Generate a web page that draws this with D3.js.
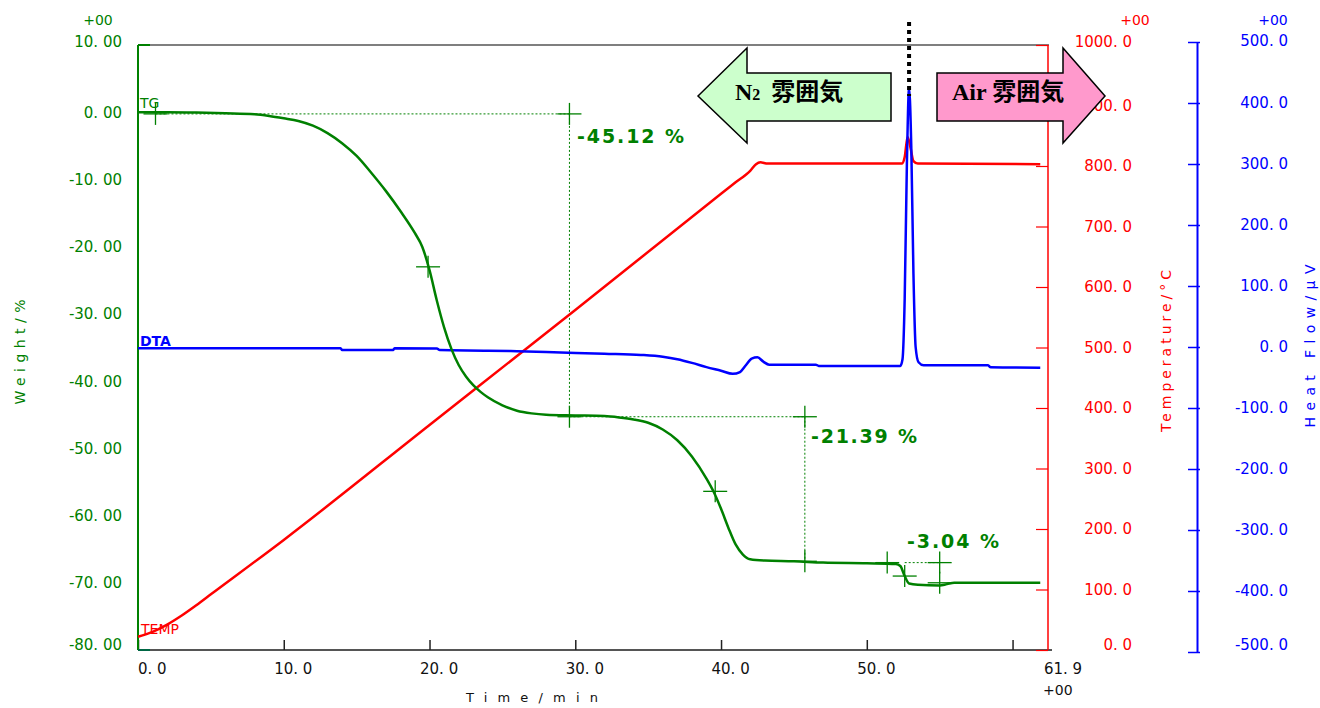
<!DOCTYPE html>
<html><head><meta charset="utf-8">
<script src="https://cdn.jsdelivr.net/npm/d3@7"></script>
<style>body{margin:0;background:#fff}svg{display:block}</style>
</head><body>
<svg id="c" width="1320" height="708"></svg>
<script>
// ---------- data ----------
const timeTicks = [0,10,20,30,40,50,60];
const timeTickLabels = ["0. 0","10. 0","20. 0","30. 0","40. 0","50. 0",""];
const timeEndLabel = "61. 9";
const weightTicks = [10,0,-10,-20,-30,-40,-50,-60,-70,-80];
const weightTickLabels = ["10. 00","0. 00","-10. 00","-20. 00","-30. 00","-40. 00","-50. 00","-60. 00","-70. 00","-80. 00"];
const tempTicks = [1000,900,800,700,600,500,400,300,200,100,0];
const tempTickLabels = ["1000. 0","900. 0","800. 0","700. 0","600. 0","500. 0","400. 0","300. 0","200. 0","100. 0","0. 0"];
const heatTicks = [500,400,300,200,100,0,-100,-200,-300,-400,-500];
const heatTickLabels = ["500. 0","400. 0","300. 0","200. 0","100. 0","0. 0","-100. 0","-200. 0","-300. 0","-400. 0","-500. 0"];

const tgTime = [0,2,4,6,8,9,10,11,12,13,14,15,16,17,18,19,19.5,20,20.5,21,21.5,22,22.5,23,23.5,24,25,26,27,28,30,32,33,34,35,36,37,38,39,39.5,40,40.5,41,41.5,42,43,45,47,50,52,52.3,52.6,52.9,53.5,55,55.5,56,61.9];
const tgWeight = [0,0,-0.05,-0.15,-0.3,-0.55,-0.9,-1.3,-2.0,-3.1,-4.6,-6.5,-9.0,-11.7,-14.7,-18.0,-20.0,-23.5,-28.0,-32.0,-35.2,-37.6,-39.3,-40.6,-41.6,-42.4,-43.6,-44.4,-44.8,-45.0,-45.1,-45.2,-45.4,-45.7,-46.2,-47.2,-48.8,-51.2,-54.5,-56.5,-59.0,-61.8,-64.3,-65.8,-66.5,-66.7,-66.8,-67.0,-67.1,-67.2,-67.5,-69.0,-70.1,-70.3,-70.4,-70.2,-70.0,-70.0];

const tempTime = [0,1,2,3,4,5,10,20,30,40,41,42,42.4,42.7,43.2,52.4,52.6,52.8,53.0,53.2,53.5,61.9];
const tempValue = [22,30,42,57,74,92,182,372,562,754,773,792,803,806,804,804,815,848,830,808,804,803];

const dtaTime = [0,13.9,14.0,17.5,17.6,20.5,20.7,24,26,29,32,34.5,36,37,38,39,40,40.8,41.3,41.7,42.1,42.5,42.9,43.3,46.5,46.7,52.3,52.45,52.6,52.75,52.9,53.05,53.2,53.35,53.55,53.9,58.3,58.5,61.9];
const dtaValue = [-2,-2,-5,-5,-2,-2.5,-5,-6,-7,-9,-11,-13,-16,-20,-26,-33,-39,-44,-41,-30,-19,-17,-24,-29,-29,-31,-31,-20,80,300,424,330,120,0,-25,-30,-30,-33,-34];

// step analysis (time, weight)
const crossTime   = [1.2, 19.9, 29.6, 29.6, 45.75, 39.6, 45.75, 51.4, 52.6, 55.0, 55.0];
const crossWeight = [-0.25,-23.0,-0.25,-45.3,-45.3,-56.4,-66.8,-67.0,-69.0,-67.0,-70.0];
const stepLabels = ["-45.12 %","-21.39 %","-3.04 %"];

// ---------- scales ----------
const svg = d3.select("#c");
const green = "#008000", red = "#ff0000", blue = "#0000ff", gray = "#555";
const x = d3.scaleLinear([0,62.5],[138,1049]);
const yW = d3.scaleLinear([-80,10],[650,45]);
const yT = d3.scaleLinear([0,1000],[650,45]);
const yH = d3.scaleLinear([-500,500],[652,42]);
const L = 138, R = 1049, T = 45, B = 650;
const tickFont = "'DejaVu Sans', sans-serif";

// frame
svg.append("line").attr("x1",L).attr("x2",R).attr("y1",T).attr("y2",T).attr("stroke",gray).attr("stroke-width",1.5);
// bottom axis
const xAxis = svg.append("g").attr("transform",`translate(0,${B})`)
  .call(d3.axisBottom(x).tickValues(timeTicks).tickSize(-10).tickFormat(""));
xAxis.select(".domain").attr("stroke",gray).attr("stroke-width",2).attr("d",`M${L},0H${R+3}`);
xAxis.selectAll(".tick line").attr("stroke","#222").attr("stroke-width",1.5);
svg.append("g").selectAll("text").data(timeTicks).join("text")
  .attr("x",(d,i)=>x(d) - 9.5*(timeTickLabels[i].split(".")[0].length-1))
  .attr("y",674).attr("font-family",tickFont).attr("font-size",15).attr("fill","#111")
  .text((d,i)=>timeTickLabels[i]);
svg.append("text").attr("x",1044).attr("y",674).attr("font-family",tickFont).attr("font-size",15).attr("fill","#111").text(timeEndLabel);
svg.append("text").attr("x",1043).attr("y",695).attr("font-family",tickFont).attr("font-size",14).attr("fill","#111").text("+00");
svg.append("text").attr("x",532).attr("y",702).attr("text-anchor","middle").attr("font-family",tickFont).attr("font-size",13)
  .attr("textLength",132).attr("lengthAdjust","spacing").attr("fill","#111").text("Time/min");

// left weight axis
svg.append("line").attr("x1",L).attr("x2",L).attr("y1",T).attr("y2",B).attr("stroke",green).attr("stroke-width",2);
svg.append("line").attr("x1",L).attr("x2",L+12).attr("y1",T).attr("y2",T).attr("stroke",green).attr("stroke-width",2);
svg.append("line").attr("x1",L).attr("x2",L+12).attr("y1",B).attr("y2",B).attr("stroke","#064").attr("stroke-width",2);
svg.append("g").selectAll("text").data(weightTicks).join("text")
  .attr("x",122).attr("y",(d,i)=>yW(d) + (i===0?-3:(i===weightTicks.length-1?-5:0)))
  .attr("dy","0.36em").attr("text-anchor","end").attr("font-family",tickFont).attr("font-size",15).attr("fill",green)
  .text((d,i)=>weightTickLabels[i]);
svg.append("text").attr("x",98).attr("y",25).attr("text-anchor","middle").attr("font-family",tickFont).attr("font-size",14).attr("fill",green).text("+00");
svg.append("text").attr("transform","translate(25,352) rotate(-90)").attr("text-anchor","middle").attr("font-family",tickFont).attr("font-size",14)
  .attr("textLength",105).attr("lengthAdjust","spacing").attr("fill",green).text("Weight/%");

// red temperature axis
const tAxis = svg.append("g").attr("transform",`translate(${R-1},0)`)
  .call(d3.axisLeft(yT).tickValues(tempTicks).tickSize(12).tickFormat(""));
tAxis.select(".domain").attr("stroke",red).attr("stroke-width",1.5).attr("d",`M0,${T}V${B}`);
tAxis.selectAll(".tick line").attr("stroke",red).attr("stroke-width",1.2);
svg.append("g").selectAll("text").data(tempTicks).join("text")
  .attr("x",1132).attr("y",(d,i)=>yT(d) + (i===0?-3:(i===tempTicks.length-1?-5:0)))
  .attr("dy","0.36em").attr("text-anchor","end").attr("font-family",tickFont).attr("font-size",15).attr("fill",red)
  .text((d,i)=>tempTickLabels[i]);
svg.append("text").attr("x",1135).attr("y",25).attr("text-anchor","middle").attr("font-family",tickFont).attr("font-size",14).attr("fill",red).text("+00");
svg.append("text").attr("transform","translate(1171,351) rotate(-90)").attr("text-anchor","middle").attr("font-family",tickFont).attr("font-size",14)
  .attr("textLength",162).attr("lengthAdjust","spacing").attr("fill",red).text("Temperature/°C");

// blue heat flow axis
const hAxis = svg.append("g").attr("transform","translate(1197,0)")
  .call(d3.axisLeft(yH).tickValues(heatTicks).tickSizeInner(9).tickSizeOuter(0).tickFormat(""));
hAxis.select(".domain").attr("stroke",blue).attr("stroke-width",2);
hAxis.selectAll(".tick line").attr("stroke",blue).attr("stroke-width",1.5).attr("x2",3).attr("x1",-9);
svg.append("g").selectAll("text").data(heatTicks).join("text")
  .attr("x",1288).attr("y",(d,i)=>yH(d) + (i===0?-1:(i===heatTicks.length-1?-7:0)))
  .attr("dy","0.36em").attr("text-anchor","end").attr("font-family",tickFont).attr("font-size",15).attr("fill",blue)
  .text((d,i)=>heatTickLabels[i]);
svg.append("text").attr("x",1273).attr("y",25).attr("text-anchor","middle").attr("font-family",tickFont).attr("font-size",14).attr("fill",blue).text("+00");
svg.append("text").attr("transform","translate(1315,346) rotate(-90)").attr("text-anchor","middle").attr("font-family",tickFont).attr("font-size",14)
  .attr("textLength",163).attr("lengthAdjust","spacing").attr("fill",blue).text("Heat Flow/μV");

// ---------- step annotation (dotted guides) ----------
const g = svg.append("g");
const dot = {stroke:green,"stroke-width":1,"stroke-dasharray":"2,2"};
function dl(x1,y1,x2,y2){const l=g.append("line").attr("x1",x1).attr("y1",y1).attr("x2",x2).attr("y2",y2);for(const k in dot)l.attr(k,dot[k]);}
dl(x(1.2),yW(-0.25),x(29.6),yW(-0.25));
dl(x(29.6),yW(-0.25),x(29.6),yW(-45.3));
dl(x(29.6),yW(-45.3),x(45.75),yW(-45.3));
dl(x(45.75),yW(-45.3),x(45.75),yW(-66.8));
dl(x(52.6),yW(-67.0),x(55.0),yW(-67.0));

// ---------- curves ----------
const lineOf = (ts,vs,ys)=>d3.line().x((d,i)=>x(ts[i])).y((d,i)=>ys(vs[i])).curve(d3.curveMonotoneX)(ts);
svg.append("path").attr("d",lineOf(tempTime,tempValue,yT)).attr("fill","none").attr("stroke",red).attr("stroke-width",2.5);
svg.append("path").attr("d",lineOf(dtaTime,dtaValue,yH)).attr("fill","none").attr("stroke",blue).attr("stroke-width",2.5);
svg.append("path").attr("d",lineOf(tgTime,tgWeight,yW)).attr("fill","none").attr("stroke",green).attr("stroke-width",2.5);

// crosses
const cr = svg.append("g").attr("stroke",green).attr("stroke-width",1.3);
crossTime.forEach((t,i)=>{
  const cx=x(t), cy=yW(crossWeight[i]);
  cr.append("line").attr("x1",cx-12).attr("x2",cx+12).attr("y1",cy).attr("y2",cy);
  cr.append("line").attr("x1",cx).attr("x2",cx).attr("y1",cy-11).attr("y2",cy+11);
});

// step labels
const stepPos = [[577,143],[811,443],[907,548]];
const stepLen = [107,106,92];
svg.append("g").selectAll("text").data(stepLabels).join("text")
  .attr("x",(d,i)=>stepPos[i][0]).attr("y",(d,i)=>stepPos[i][1])
  .attr("font-family",tickFont).attr("font-weight","bold").attr("font-size",19).attr("fill",green)
  .attr("textLength",(d,i)=>stepLen[i]).attr("lengthAdjust","spacing").text(d=>d);

// curve labels
svg.append("text").attr("x",140).attr("y",108).attr("font-family",tickFont).attr("font-size",14).attr("fill",green).text("TG");
svg.append("text").attr("x",140).attr("y",346).attr("font-family",tickFont).attr("font-size",14).attr("font-weight","bold").attr("fill",blue).text("DTA");
svg.append("text").attr("x",141).attr("y",634).attr("font-family",tickFont).attr("font-size",14).attr("fill",red).text("TEMP");

// ---------- atmosphere arrows ----------
const aMid=96, aBT=73, aBB=121, aHT=48, aHB=143;
const leftTip=698, leftHead=747, leftEnd=891;
const rightStart=937, rightHead=1063, rightTip=1105;
svg.append("path").attr("d",`M${leftTip},${aMid}L${leftHead},${aHT}V${aBT}H${leftEnd}V${aBB}H${leftHead}V${aHB}Z`)
  .attr("fill","#ccffcc").attr("stroke","#000").attr("stroke-width",1.5);
svg.append("path").attr("d",`M${rightTip},${aMid}L${rightHead},${aHT}V${aBT}H${rightStart}V${aBB}H${rightHead}V${aHB}Z`)
  .attr("fill","#ff99cc").attr("stroke","#000").attr("stroke-width",1.5);
const at = svg.append("text").attr("x",735).attr("y",100).attr("font-family","'Liberation Serif','Noto Sans CJK JP',serif").attr("font-weight","bold").attr("font-size",24).attr("fill","#000");
at.append("tspan").text("N");
at.append("tspan").attr("font-size",16).text("2");
at.append("tspan").attr("font-family","'Noto Sans CJK JP'").attr("dx",11).text("雰囲気");
const at2 = svg.append("text").attr("x",952).attr("y",100).attr("font-family","'Liberation Serif','Noto Sans CJK JP',serif").attr("font-weight","bold").attr("font-size",24).attr("fill","#000");
at2.append("tspan").text("Air ");
at2.append("tspan").attr("font-family","'Noto Sans CJK JP'").text("雰囲気");

// dotted switch marker
svg.append("line").attr("x1",x(52.9)).attr("x2",x(52.9)).attr("y1",22).attr("y2",96)
  .attr("stroke","#000").attr("stroke-width",4).attr("stroke-dasharray","4,4");
</script>
</body></html>
